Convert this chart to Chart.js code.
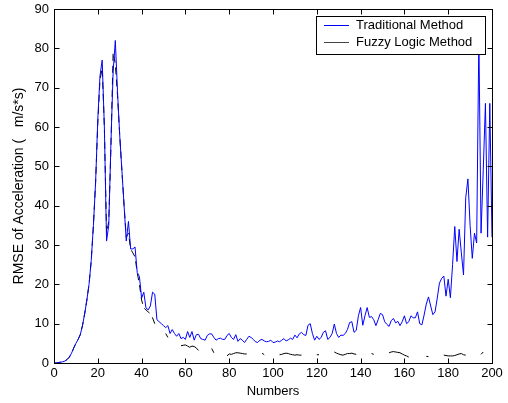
<!DOCTYPE html>
<html>
<head>
<meta charset="utf-8">
<script src="https://cdn.jsdelivr.net/npm/chart.js@4.4.1/dist/chart.umd.min.js"></script>
<style>
  html, body { margin: 0; padding: 0; background: #fff; }
</style>
</head>
<body>
<canvas id="chart" width="508" height="403"></canvas>
<script>
// RMSE per run, index = run number (0..200)
const traditional = [
  0, 0, 0.1, 0.2, 0.3, 0.5, 0.9, 1.5, 2.5, 3.8,
  5, 6, 7.2, 9.5, 12.5, 16, 20, 26, 35, 46,
  62, 73, 77, 60, 31, 35, 56, 74, 82, 69,
  58, 49, 40, 31, 36, 29, 29, 29.5, 23, 22,
  16.5, 18, 14, 13.5, 14.5, 18, 17.5, 11, 10.5, 10,
  9.5, 9, 9.5, 7.5, 8.5, 7.5, 6.8, 7.5, 6.2, 6.5,
  6, 8, 6.5, 8, 5.8, 7.2, 7.3, 6.2, 6, 5.8,
  7, 7.4, 7.4, 6.5, 5.8, 6.2, 6.3, 6, 6, 7,
  7.5, 6.5, 6, 7.2, 5.5, 6.2, 5.8, 5.2, 6, 6.8,
  6.5, 6, 5.4, 5.2, 5.8, 6, 5.6, 5.4, 5.5, 5.8,
  5.2, 5.3, 5.6, 5.4, 5.8, 6.2, 5.6, 5.9, 6.3, 6,
  7.1, 6.4, 7.4, 7.8, 7.2, 7, 9.6, 10, 7.5, 5.8,
  6.8, 6, 6.5, 7.8, 8.2, 6, 6.5, 7.5, 9.9, 7.5,
  6.5, 7.1, 7, 7.5, 8.5, 10.3, 10.5, 7.8, 8.3, 12,
  14.1, 9.6, 12, 14.1, 11.6, 11.8, 11, 9.5, 11, 12.6,
  12.3, 10.5, 9.8, 9.3, 10.8, 11.3, 10.2, 10.6, 9.5, 10.5,
  12, 10, 10.5, 12, 11.5, 11.5, 13, 10, 9.7, 12.2,
  15, 16.8, 14.5, 12.3, 13, 16.5, 20.3, 21.5, 22.1, 17,
  21.3, 16.6, 25, 34.7, 25.8, 34, 28, 22.4, 42, 46.8,
  35, 26.6, 33, 30.5, 83, 33, 49, 66, 32, 66,
  32
];

const fuzzy = [
  0, 0, 0.1, 0.2, 0.3, 0.5, 0.9, 1.5, 2.5, 3.8,
  5, 6, 7.2, 9.5, 12.5, 16, 20, 26, 35, 46,
  61, 72, 75, 60, 33, 36, 55, 79, 76, 68,
  58, 49, 40, 32, 33, 29, 28, 27, 23, 20,
  16, 14, 13.5, 13, 12.5, 11.5, 10, 9.5, null, null,
  null, 7.5, 6.5, null, null, null, null, null, 4.4, 4.5,
  4.6, 4.3, 4, 4.3, 4.2, 3.8, 3.2, null, null, null,
  null, null, 3.7, 2.6, null, null, null, null, null, 1.8,
  2.3, 2.2, 2.4, 2.6, 2.6, 2.5, 2.4, 2.3, 2.3, null,
  null, null, null, null, null, 2.5, 2.1, null, null, null,
  null, null, null, 2.1, 2.2, 2.4, 2.5, 2.4, 2.2, 2.1,
  2, 2.1, 2, 2, null, null, null, null, null, null,
  2.1, 2.1, null, null, null, null, null, null, 2.8, 2.5,
  2.3, 2.1, 2, 2.2, 2.4, 2.4, 2.5, 2.3, 2.2, null,
  null, null, null, null, null, 2.4, 2.2, null, null, null,
  null, null, null, 2.6, 2.8, 2.9, 2.8, 2.7, 2.6, 2.3,
  2, 1.8, 1.5, null, null, null, null, null, null, null,
  1.7, 1.6, null, null, null, null, null, null, 2, 1.9,
  1.8, 1.8, 1.8, 1.9, 2.1, 2.3, 2.4, 2.1, 2, null,
  null, null, null, null, null, 2.2, 2.8, null, null, null,
  null
];

const seriesNames = ['Traditional Method', 'Fuzzy Logic Method'];
const seriesColors = ['#0000ff', '#000000'];
const xTicks = [0, 20, 40, 60, 80, 100, 120, 140, 160, 180, 200];
const yTicks = [0, 10, 20, 30, 40, 50, 60, 70, 80, 90];
const xTitle = 'Numbers';
const yTitle = 'RMSE of Acceleration (   m/s*s)';

const FONT = 'Liberation Sans, Arial, sans-serif';
const toPoints = arr => arr.map((v, i) => ({ x: i, y: v }));

// matlab-style box: frame, inward ticks on all sides, legend inside
const boxPlugin = {
  id: 'box',
  afterDraw(chart) {
    const { ctx, chartArea: a, scales: { x, y } } = chart;
    const L = Math.round(a.left) + 0.5, R = Math.round(a.right) + 0.5;
    const T = Math.round(a.top) + 0.5, B = Math.round(a.bottom) + 0.5;
    const tl = 5;
    ctx.save();
    ctx.strokeStyle = '#000';
    ctx.lineWidth = 1;
    ctx.beginPath();
    xTicks.forEach(v => {
      const px = Math.round(x.getPixelForValue(v)) + 0.5;
      ctx.moveTo(px, B); ctx.lineTo(px, B - tl);
      ctx.moveTo(px, T); ctx.lineTo(px, T + tl);
    });
    yTicks.forEach(v => {
      const py = Math.round(y.getPixelForValue(v)) + 0.5;
      ctx.moveTo(L, py); ctx.lineTo(L + tl, py);
      ctx.moveTo(R, py); ctx.lineTo(R - tl, py);
    });
    ctx.stroke();
    ctx.strokeRect(L, T, R - L, B - T);

    // legend
    const lx = 316.5, ly = 16.5, lw = 169, lh = 38;
    ctx.fillStyle = '#fff';
    ctx.fillRect(lx, ly, lw, lh);
    ctx.strokeStyle = '#000';
    ctx.strokeRect(lx, ly, lw, lh);
    ctx.font = '13px ' + FONT;
    ctx.textBaseline = 'middle';
    seriesNames.forEach((name, i) => {
      const ry = 25.5 + i * 17;
      ctx.strokeStyle = i === 0 ? seriesColors[0] : '#444';
      ctx.beginPath();
      ctx.moveTo(324, ry); ctx.lineTo(349, ry);
      ctx.stroke();
      ctx.fillStyle = '#000';
      ctx.fillText(name, 356, ry);
    });
    ctx.restore();
  }
};

new Chart(document.getElementById('chart'), {
  type: 'line',
  data: {
    datasets: [
      {
        label: seriesNames[0],
        data: toPoints(traditional),
        borderColor: seriesColors[0],
        borderWidth: 1,
        pointRadius: 0,
        tension: 0
      },
      {
        label: seriesNames[1],
        data: toPoints(fuzzy),
        borderColor: seriesColors[1],
        borderWidth: 1,
        pointRadius: 0,
        tension: 0,
        spanGaps: false,
        segment: { borderDash: c => c.p0.parsed.x < 48 ? [7, 5] : [] }
      }
    ]
  },
  options: {
    responsive: false,
    animation: false,
    layout: { padding: { top: 9, right: 16, left: 0, bottom: 0 } },
    plugins: { legend: { display: false }, tooltip: { enabled: false } },
    scales: {
      x: {
        type: 'linear',
        min: 0, max: 200,
        afterBuildTicks: s => { s.ticks = xTicks.map(v => ({ value: v })); },
        afterFit: s => { s.height = 40; s.paddingLeft = 0; s.paddingRight = 0; },
        grid: { display: false, drawTicks: false },
        border: { display: false },
        ticks: { color: '#000', font: { family: FONT, size: 13 }, padding: 3, maxRotation: 0 },
        title: { display: true, text: xTitle, color: '#000', font: { family: FONT, size: 13 }, padding: { top: 0, bottom: 4 } }
      },
      y: {
        min: 0, max: 90,
        afterBuildTicks: s => { s.ticks = yTicks.map(v => ({ value: v })); },
        afterFit: s => { s.width = 54; s.paddingTop = 0; s.paddingBottom = 0; },
        grid: { display: false, drawTicks: false },
        border: { display: false },
        ticks: { color: '#000', font: { family: FONT, size: 13 }, padding: 5 },
        title: { display: true, text: yTitle, color: '#000', font: { family: FONT, size: 14 }, padding: { top: 11, bottom: 0 } }
      }
    }
  },
  plugins: [boxPlugin]
});
</script>
</body>
</html>
